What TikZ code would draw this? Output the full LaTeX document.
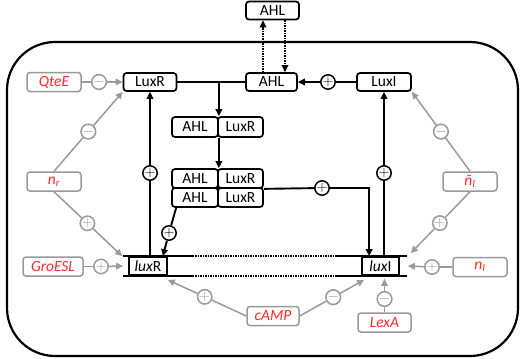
\documentclass[tikz,border=0pt]{standalone}
\usepackage{fontspec}
\setmainfont{Carlito}
\usetikzlibrary{arrows.meta,calc}
\definecolor{reg}{HTML}{FF2A2A}
\definecolor{soft}{HTML}{9A9A9A}

\tikzset{
  box/.style={draw, rounded corners=3pt, line width=1.7pt, minimum height=18pt,
    inner sep=0pt, fill=white, font=\fontsize{15.5}{17}\selectfont},
  gbox/.style={draw=soft, rounded corners=3pt, line width=1.5pt, minimum width=54pt,
    minimum height=19pt, inner sep=0pt, fill=white, text=reg,
    font=\fontsize{15.5}{17}\selectfont\itshape},
  sign/.style={circle, draw, line width=1.5pt, minimum size=14pt, inner sep=0pt,
    fill=white, font=\fontsize{14}{14}\selectfont},
  gsign/.style={sign, draw=soft, text=soft},
  link/.style={line width=1.9pt},
  glink/.style={line width=1.5pt, draw=soft},
  tip/.style={-{Triangle[length=7pt,width=6.5pt]}},
  gtip/.style={-{Triangle[length=7pt,width=6.5pt]}, soft},
  dots/.style={line width=1.7pt, dash pattern=on 1.2pt off 1.3pt},
}

\begin{document}
\begin{tikzpicture}[x=1pt, y=-1pt]
\useasboundingbox (0,0) rectangle (520,359);

% cell boundary
\draw[line width=2.2pt, rounded corners=48pt] (7,42) rectangle (518,356);

% proteins and signal molecules
\node[box, minimum width=53pt] (AHLout) at (272.5,10.5) {AHL};
\node[box, minimum width=53pt] (LuxR) at (150,82) {LuxR};
\node[box, minimum width=51pt] (AHLin) at (271.5,82) {AHL};
\node[box, minimum width=54pt] (LuxI) at (384,82) {LuxI};

% AHL-LuxR complex
\node[box, minimum width=46pt, minimum height=20pt] (c1a) at (195,127) {AHL};
\node[box, minimum width=45pt, minimum height=20pt] (c1b) at (240.5,127) {LuxR};

% dimer of the complex
\node[box, minimum width=46pt, minimum height=19pt] (c2a) at (195,178.5) {AHL};
\node[box, minimum width=45pt, minimum height=19pt] (c2b) at (240.5,178.5) {LuxR};
\node[box, minimum width=46pt, minimum height=19pt] (c2c) at (195,197.5) {AHL};
\node[box, minimum width=45pt, minimum height=19pt] (c2d) at (240.5,197.5) {LuxR};

% genes on the DNA
\node[box, rounded corners=0pt, minimum width=38pt, minimum height=18pt] (luxR) at (148,266) {\textit{lux}R};
\node[box, rounded corners=0pt, minimum width=37pt, minimum height=18pt] (luxI) at (380.5,266) {\textit{lux}I};
\foreach \a in {north,south}{
  \draw[link] ([xshift=-5pt]luxR.\a\space west) -- ([xshift=25pt]luxR.\a\space east);
  \draw[dots] ([xshift=25pt]luxR.\a\space east) -- ([xshift=-25pt]luxI.\a\space west);
  \draw[link] ([xshift=-25pt]luxI.\a\space west) -- ([xshift=7pt]luxI.\a\space east);
}

% regulators
\node[gbox] (QteE) at (54,82) {QteE};
\node[gbox] (nr) at (54,181.5) {n\textsubscript{r}};
\node[gbox, minimum width=60pt] (GroESL) at (53,266.5) {GroESL};
\node[gbox, minimum width=52pt] (cAMP) at (273,316) {cAMP};
\node[gbox, minimum width=53pt] (LexA) at (384.5,322.5) {LexA};
\node[gbox] (nI) at (480,267) {n\textsubscript{I}};
\node[gbox] (ntI) at (470,181.5) {ñ\textsubscript{I}};

% black signs
\node[sign] (s2) at (328,82) {$+$};
\node[sign] (s3) at (150,173) {$+$};
\node[sign] (s4) at (384,173) {$+$};
\node[sign] (s5) at (322,188) {$+$};
\node[sign] (s6) at (169,233) {$+$};

% grey signs
\node[gsign] (g0) at (99,82) {$-$};
\node[gsign] (g1) at ($(nr.north)!0.5!(LuxR.south west)$) {$-$};
\node[gsign] (g2) at ($(nr.south)!0.49!([xshift=-6pt]luxR.north west)$) {$+$};
\node[gsign] (g3) at (101,266.5) {$+$};
\node[gsign] (g4) at ($(cAMP.west)!0.53!([yshift=-4pt]luxR.south east)$) {$+$};
\node[gsign] (g5) at ($(cAMP.east)!0.52!([shift={(3pt,-4pt)}]luxI.south west)$) {$-$};
\node[gsign] (g6) at (384.5,299) {$-$};
\node[gsign] (g7) at (432,267) {$+$};
\node[gsign] (g8) at ($(ntI.north)!0.5!(LuxI.south east)$) {$-$};
\node[gsign] (g9) at ($(ntI.south)!0.51!([shift={(11pt,3pt)}]luxI.north east)$) {$+$};

% AHL diffusion across the membrane
\draw[dots, tip] ([xshift=-8.5pt]AHLin.north) -- ([xshift=-9.5pt]AHLout.south);
\draw[dots, tip] ([xshift=12.5pt]AHLout.south) -- ([xshift=13.5pt]AHLin.north);

% binding and dimerisation
\draw[link] (LuxR.east) -- (AHLin.west);
\coordinate (j1) at (c1a.north east |- LuxR.east);
\draw[link, tip] (j1) -- (c1a.north east);
\draw[link, tip] (c1a.south east) -- (c2a.north east);

% AHL synthesis
\draw[link] (LuxI.west) -- (s2);
\draw[link, tip] (s2) -- (AHLin.east);

% expression of the genes
\draw[link] (LuxR |- luxR.north) -- (s3);
\draw[link, tip] (s3) -- (LuxR.south);
\draw[link] (LuxI |- luxI.north) -- (s4);
\draw[link, tip] (s4) -- (LuxI.south);

% activation by the dimer
\draw[link] (c2b.south east) -- (s5);
\draw[link, tip] (s5) -| ([xshift=8pt]luxI.north west);
\draw[link] ([xshift=5pt]c2c.south west) -- (s6);
\draw[link, tip] (s6) -- ([xshift=-5pt]luxR.north east);

% regulation of the lux genes
\draw[glink] (QteE.east) -- (g0);
\draw[glink, gtip] (g0) -- (LuxR.west);
\draw[glink] (nr.north) -- (g1);
\draw[glink, gtip] (g1) -- (LuxR.south west);
\draw[glink] (nr.south) -- (g2);
\draw[glink, gtip] (g2) -- ([xshift=-6pt]luxR.north west);
\draw[glink] (GroESL.east) -- (g3);
\draw[glink, gtip] (g3) -- ([xshift=-5pt]luxR.west);
\draw[glink] (cAMP.west) -- (g4);
\draw[glink, gtip] (g4) -- ([yshift=-4pt]luxR.south east);
\draw[glink] (cAMP.east) -- (g5);
\draw[glink, gtip] (g5) -- ([shift={(3pt,-4pt)}]luxI.south west);
\path (luxI.south -| LexA.north) ++(0,3) coordinate (lxa);
\draw[glink] (LexA.north) -- (g6);
\draw[glink, gtip] (g6) -- (lxa);
\draw[glink] (nI.west) -- (g7);
\draw[glink, gtip] (g7) -- ([xshift=8pt]luxI.east);
\draw[glink] (ntI.north) -- (g8);
\draw[glink, gtip] (g8) -- (LuxI.south east);
\draw[glink] (ntI.south) -- (g9);
\draw[glink, gtip] (g9) -- ([shift={(11pt,3pt)}]luxI.north east);
\end{tikzpicture}
\end{document}
